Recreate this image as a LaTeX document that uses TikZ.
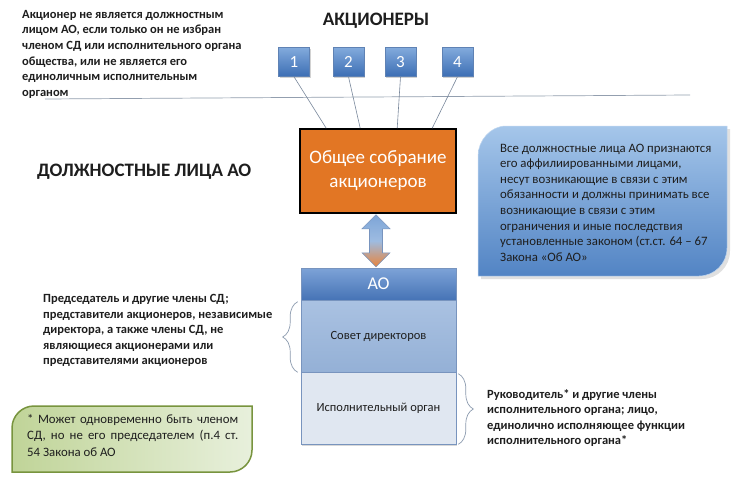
\documentclass[tikz,border=0pt]{standalone}
\usepackage{fontspec}
\setmainfont{Carlito}
\usetikzlibrary{calc,decorations.pathreplacing,shadows}
\definecolor{txt}{RGB}{30,30,30}
\definecolor{numtop}{RGB}{130,170,220}
\definecolor{numbot}{RGB}{60,110,180}
\definecolor{numedge}{RGB}{95,130,180}
\definecolor{orangefill}{RGB}{226,118,36}
\definecolor{hdrtop}{RGB}{125,163,215}
\definecolor{hdrbot}{RGB}{70,115,182}
\definecolor{blockedge}{RGB}{120,148,190}
\definecolor{sovtop}{RGB}{170,194,226}
\definecolor{sovbot}{RGB}{148,176,214}
\definecolor{ispfill}{RGB}{224,231,241}
\definecolor{linegray}{RGB}{120,135,155}
\definecolor{bracegray}{RGB}{140,155,175}
\definecolor{infotop}{RGB}{165,198,234}
\definecolor{infobot}{RGB}{82,132,196}
\definecolor{greenedge}{RGB}{120,148,62}
\definecolor{greenleft}{RGB}{192,212,152}
\definecolor{greenright}{RGB}{232,240,220}
\definecolor{arrowtop}{RGB}{125,165,215}
\definecolor{arrowbot}{RGB}{232,132,60}
\begin{document}
\begin{tikzpicture}[x=1pt,y=-1pt,
  bodytext/.style={inner sep=0pt, anchor=north west, align=left, text=txt,
    font=\fontsize{12.5}{15.6}\selectfont},
  boldtext/.style={bodytext, font=\fontsize{12.5}{15.6}\selectfont\bfseries},
  numbox/.style={draw=numedge, line width=0.5pt, top color=numtop, bottom color=numbot,
    minimum width=31pt, minimum height=29pt, inner sep=0pt, text=white,
    font=\fontsize{17}{20}\selectfont,
    drop shadow={shadow xshift=1pt, shadow yshift=-1.5pt, opacity=0.35}},
  feeder/.style={draw=linegray, line width=0.6pt},
  blockpart/.style={draw=blockedge, line width=0.6pt, minimum width=155pt, inner sep=0pt},
  bracestyle/.style={draw=bracegray, line width=0.7pt, decorate,
    decoration={brace, amplitude=15pt, aspect=0.5}},
  heading/.style={inner sep=0pt, text=txt, font=\fontsize{19}{22}\selectfont\bfseries}
]
\useasboundingbox (0,0) rectangle (741,479);
\fill[white] (0,0) rectangle (741,479);

% horizontal line
\coordinate (hl1) at (45,99);
\coordinate (hl2) at (690,95);
\draw[draw=linegray!80, line width=0.7pt] (hl1) -- (hl2);

% top-left text
\node[boldtext] (topnote) at (22,10) {Акционер не является должностным\\лицом АО, если только он не избран\\членом СД или исполнительного органа\\общества, или не является его\\единоличным исполнительным\\органом};

% heading
\node[heading] (shareholders) at (376,21) {АКЦИОНЕРЫ};
\node[heading, anchor=west] (officers) at (37,172) {ДОЛЖНОСТНЫЕ ЛИЦА АО};

% number boxes
\node[numbox] (n1) at (294,62) {1};
\node[numbox] (n2) at (348.5,62) {2};
\node[numbox] (n3) at (400.5,62) {3};
\node[numbox] (n4) at (457.5,62) {4};

% general meeting
\node[draw=black, line width=1.6pt, fill=orangefill, minimum width=156pt, minimum height=84pt,
  align=center, text=white, font=\fontsize{19}{24}\selectfont, inner sep=0pt] (osa) at (378,171)
  {Общее собрание\\акционеров};

% feeders
\draw[feeder] (n1.south) -- ($(osa.north west)+(27,0)$);
\draw[feeder] (n2.south) -- ($(osa.north west)+(61,0)$);
\draw[feeder] (n3.south) -- ($(osa.north west)+(98,0)$);
\draw[feeder] (n4.south) -- ($(osa.north west)+(133,0)$);

% AO block
\node[blockpart, top color=hdrtop, bottom color=hdrbot, minimum height=32pt, text=white,
  font=\fontsize{18}{21}\selectfont] (aohdr) at (378.5,284) {АО};
\node[blockpart, top color=sovtop, bottom color=sovbot, minimum height=72pt, text=txt,
  font=\fontsize{12.5}{15}\selectfont] (sov) at (378.5,336) {Совет директоров};
\node[blockpart, fill=ispfill, minimum height=72pt, text=txt,
  font=\fontsize{12.5}{15}\selectfont,
  drop shadow={shadow xshift=1pt, shadow yshift=-2pt, opacity=0.3}] (isp) at (378.5,408) {Исполнительный орган};

% double arrow between meeting and AO
\shade[top color=arrowtop, bottom color=arrowbot, middle color=arrowtop!75!white,
  draw=blockedge, line width=0.6pt]
  ($(osa.south)+(-2,1)$) -- ++(14,14) -- ++(-7.5,0) -- ++(0,24) -- ++(7.5,0) -- ++(-14,14)
  -- ++(-14,-14) -- ++(7.5,0) -- ++(0,-24) -- ++(-7.5,0) -- cycle;

% braces
\draw[bracestyle] ($(sov.south west)+(-3,0)$) -- ($(sov.north west)+(-3,2)$);
\draw[bracestyle] ($(isp.north east)+(2,2)$) -- ($(isp.south east)+(2,0)$);

% left and right notes
\node[boldtext] (sovnote) at (43,294) {Председатель и другие члены СД;\\представители акционеров, независимые\\директора, а также члены СД, не\\являющиеся акционерами или\\представителями акционеров};
\node[boldtext] (ispnote) at (487,389) {Руководитель* и другие члены\\исполнительного органа; лицо,\\единолично исполняющее функции\\исполнительного органа*};

% info box (blue)
\fill[black, opacity=0.12] (481,159) .. controls (481,143.5) and (493.5,129) .. (509,129) -- (730,129) -- (730,251)
  .. controls (730,266.5) and (717.5,279) .. (702,279) -- (481,279) -- cycle;
\shade[top color=infotop, bottom color=infobot, draw=infotop!70!white, line width=0.5pt]
  (478,156) .. controls (478,140.5) and (490.5,126) .. (506,126) -- (727,126) -- (727,248)
  .. controls (727,263.5) and (714.5,276) .. (699,276) -- (478,276) -- cycle;
\node[bodytext, font=\fontsize{12.8}{15.6}\selectfont] (info) at (500,143.5) {Все должностные лица АО признаются\\его аффилиированными лицами,\\несут возникающие в связи с этим\\обязанности и должны принимать все\\возникающие в связи с этим\\ограничения и иные последствия\\установленные законом (ст.ст. 64 – 67\\Закона «Об АО»};

% green box
\shade[left color=greenleft, right color=greenright, draw=greenedge, line width=1.5pt]
  (12,428) .. controls (12,415.9) and (21.9,406) .. (34,406) -- (252,406) -- (252,450)
  .. controls (252,462.1) and (242.1,472) .. (230,472) -- (12,472) -- cycle;
\node[bodytext, font=\fontsize{12.8}{16.5}\selectfont] (foot) at (27,414) {\makebox[211pt][s]{* Может одновременно быть членом}\\\makebox[211pt][s]{СД, но не его председателем (п.4 ст.}\\54 Закона об АО};
\end{tikzpicture}
\end{document}
